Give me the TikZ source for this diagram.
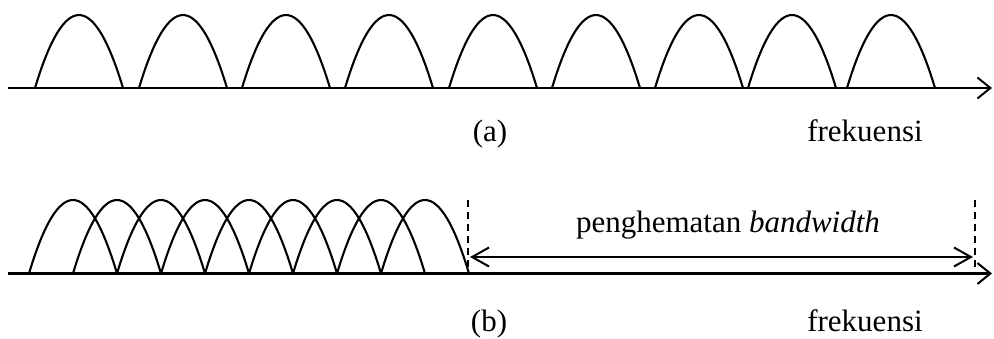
\documentclass[tikz,border=0pt]{standalone}
\usepackage{fontspec}
\setmainfont{Liberation Serif}
\usetikzlibrary{arrows.meta}

\begin{document}
\begin{tikzpicture}[
        x=1pt, y=-1pt,
        axis/.style={line width=2.4pt, -{Straight Barb[length=13pt, width=21pt, line width=2pt]}},
        hump/.style={line width=2.1pt},
        guide/.style={line width=1.8pt, dash pattern=on 7pt off 5pt},
        arr/.style={line width=2pt, {Straight Barb[length=17pt, width=19pt, line width=2pt]}-{Straight Barb[length=17pt, width=19pt, line width=2pt]}},
        lbl/.style={font=\fontsize{31}{36}\selectfont, anchor=base, inner sep=0pt}
        ]
        \useasboundingbox (0,0) rectangle (994,338);
        % (a)
        \coordinate (axA0) at (8,88);
        \coordinate (axA1) at (992,88);
        \draw[axis] (axA0) -- (axA1);
        \foreach \s in {35,139,242,345,449,552,655,748,847}
            \draw[hump] (\s,88) .. controls (\s+29.3,-9.3) and (\s+58.7,-9.3) .. (\s+88,88);
        \node[lbl] (capA)  at (490,141) {(a)};
        \node[lbl] (freqA) at (865,141) {frekuensi};
        % (b)
        \coordinate (axB0) at (8,273.5);
        \coordinate (axB1) at (992,273.5);
        \draw[axis] (axB0) -- (axB1);
        \foreach \i in {0,...,8}
            \draw[hump] (29+44*\i,273.5) .. controls (29+44*\i+29.3,175.5) and (29+44*\i+58.7,175.5) .. (29+44*\i+88,273.5);
        \coordinate (dashLt) at (468,200);
        \coordinate (dashLb) at (468,273.5);
        \coordinate (dashRt) at (975,200);
        \coordinate (dashRb) at (975,273.5);
        \draw[guide] (dashLt) -- (dashLb);
        \draw[guide] (dashRt) -- (dashRb);
        \coordinate (saveL) at (470,257);
        \coordinate (saveR) at (973,257);
        \draw[arr] (saveL) -- (saveR);
        \node[lbl] (save)  at (728,232) {penghematan \textit{bandwidth}};
        \node[lbl] (capB)  at (489,331) {(b)};
        \node[lbl] (freqB) at (865,331) {frekuensi};
    \end{tikzpicture}
\end{document}
